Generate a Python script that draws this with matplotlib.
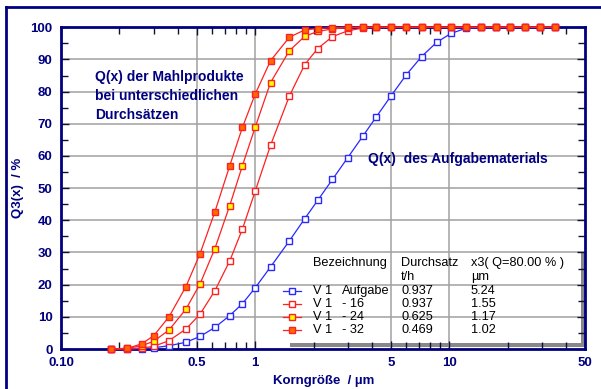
import numpy as np
import matplotlib
matplotlib.use("Agg")
import matplotlib.pyplot as plt
from matplotlib.lines import Line2D
from matplotlib.patches import Rectangle
from matplotlib.ticker import FixedLocator, NullFormatter

# particle size classes (um)
sizes = [0.18, 0.22, 0.26, 0.30, 0.36, 0.44, 0.52, 0.62, 0.74, 0.86, 1.00, 1.20,
         1.50, 1.80, 2.10, 2.50, 3.00, 3.60, 4.20, 5.00, 6.00, 7.20, 8.60, 10.20,
         12.20, 14.60, 17.40, 20.60, 24.60, 29.40, 35.00]

# cumulative distributions Q3 (%)
q_aufgabe = [0, 0, 0, 0.4, 1.0, 2.1, 3.9, 6.7, 10.4, 14.1, 19.0, 25.5,
             33.6, 40.5, 46.2, 52.7, 59.5, 66.3, 72.1, 78.6, 85.2, 90.9, 95.3, 98.1,
             99.7, 100, 100, 100, 100, 100, 100]
q_16 = [0, 0, 0.3, 0.8, 2.6, 6.2, 10.8, 18.1, 27.4, 37.3, 49.0, 63.3,
        78.6, 88.4, 93.4, 97.1, 98.9, 99.8, 100, 100, 100, 100, 100, 100,
        100, 100, 100, 100, 100, 100, 100]
q_24 = [0, 0.2, 1.0, 2.4, 5.9, 12.4, 20.2, 31.2, 44.6, 57.0, 68.9, 82.8,
        92.7, 97.2, 98.7, 99.5, 99.9, 100, 100, 100, 100, 100, 100, 100,
        100, 100, 100, 100, 100, 100, 100]
q_32 = [0, 0.2, 1.6, 4.1, 10.0, 19.4, 29.6, 42.6, 57.0, 68.9, 79.2, 89.6,
        96.9, 99.2, 99.6, 99.9, 100, 100, 100, 100, 100, 100, 100, 100,
        100, 100, 100, 100, 100, 100, 100]

names = ["V 1", "V 1", "V 1", "V 1"]
labels = ["Aufgabe", "- 16", "- 24", "- 32"]
durchsatz = ["0.937", "0.937", "0.625", "0.469"]
x80 = ["5.24", "1.55", "1.17", "1.02"]

xticks = [0.1, 0.5, 1, 5, 10, 50]
xticklabels = ["0.10", "0.5", "1", "5", "10", "50"]
xminor = [0.2, 0.3, 0.4, 0.6, 0.7, 0.8, 0.9, 2, 3, 4, 6, 7, 8, 9, 20, 30, 40]

navy = "#000080"
red = "#FF2020"
blue = "#2828FF"
bold = dict(family="Liberation Sans", weight="bold", color=navy)

W, H = 601, 389
fig = plt.figure(figsize=(W / 100, H / 100), dpi=100)
fig.patch.set_facecolor("white")


def fx(px):
    return px / W


def fy(py):
    return 1 - py / H


ax = fig.add_axes([fx(61), fy(349), fx(585) - fx(61), fy(27.3) - fy(349)])
ax.set_xscale("log")
ax.set_xlim(0.1, 50)
ax.set_ylim(0, 100)

# grid drawn by hand so text boxes can cover it
for v in [0.5, 1, 5, 10]:
    ax.axvline(v, color="#A0A0A0", lw=1.1, zorder=0.5)
for h in range(10, 100, 10):
    ax.axhline(h, color="#A0A0A0", lw=1.1, zorder=0.5)

series = [
    (q_aufgabe, blue, "white"),
    (q_16, red, "white"),
    (q_24, red, "#FFFF00"),
    (q_32, red, "#FF6A00"),
]
for q, lc, fc in series:
    ax.plot(sizes, q, color=lc, lw=0.9, marker="s", ms=4.8, mfc=fc, mec=lc,
            mew=1.0, zorder=4, clip_on=False)

ax.xaxis.set_major_locator(FixedLocator(xticks))
ax.set_xticklabels(xticklabels)
ax.xaxis.set_minor_locator(FixedLocator(xminor))
ax.xaxis.set_minor_formatter(NullFormatter())
ax.set_yticks(range(0, 101, 10))
ax.yaxis.set_minor_locator(FixedLocator(range(5, 100, 10)))
ax.tick_params(which="both", direction="in", top=True, right=True,
               color="#101030", width=1)
ax.tick_params(which="major", length=6, pad=6)
ax.tick_params(which="minor", length=5)
for lab in ax.get_xticklabels() + ax.get_yticklabels():
    lab.set_fontfamily("Liberation Sans")
    lab.set_fontweight("bold")
    lab.set_fontsize(9.5)
    lab.set_color(navy)
for s in ax.spines.values():
    s.set_color(navy)
    s.set_linewidth(2)
    s.set_zorder(3)


# white areas behind the annotations and the table
def box(x0, y0, x1, y1, color="white", z=1):
    fig.add_artist(Rectangle((fx(x0), fy(y1)), fx(x1) - fx(x0), fy(y0) - fy(y1),
                             transform=fig.transFigure, facecolor=color,
                             edgecolor="none", zorder=z))


ax.set_zorder(1)
ax.patch.set_visible(False)

box(88, 30, 246, 128)
box(362, 147, 550, 172)
box(290, 252, 585, 347, color="#888888")
box(282, 248, 581, 343)

fig.text(fx(95), fy(77), "Q(x) der Mahlprodukte", fontsize=10, va="center",
         zorder=6, **bold)
fig.text(fx(95), fy(96), "bei unterschiedlichen", fontsize=10, va="center",
         zorder=6, **bold)
fig.text(fx(95), fy(115), "Durchsätzen", fontsize=10, va="center",
         zorder=6, **bold)
fig.text(fx(368), fy(159), "Q(x)  des Aufgabematerials", fontsize=10,
         va="center", zorder=6, **bold)

# table legend
reg = dict(family="Liberation Sans", fontsize=9.2, color="black", va="center",
           zorder=6)
fig.text(fx(313), fy(263), "Bezeichnung", **reg)
fig.text(fx(401), fy(263), "Durchsatz", **reg)
fig.text(fx(471), fy(263), "x3( Q=80.00 % )", **reg)
fig.text(fx(401), fy(277), "t/h", **reg)
fig.text(fx(471), fy(277), "µm", **reg)
rows = [291, 304, 317, 330]
for i, (q, lc, fc) in enumerate(series):
    ry = fy(rows[i])
    fig.add_artist(Line2D([fx(283), fx(301)], [ry, ry], transform=fig.transFigure,
                          color=lc, lw=0.9, zorder=6))
    fig.add_artist(Line2D([fx(292)], [ry], transform=fig.transFigure, marker="s",
                          ms=4.8, mfc=fc, mec=lc, mew=1.0, zorder=6))
    fig.text(fx(313), ry, names[i], **reg)
    fig.text(fx(342), ry, labels[i], **reg)
    fig.text(fx(401), ry, durchsatz[i], **reg)
    fig.text(fx(471), ry, x80[i], **reg)

# axis titles
fig.text(fx(324), fy(381), "Korngröße  / µm", fontsize=9.5, ha="center",
         va="center", **bold)
fig.text(fx(18), fy(188), "Q3(x)  / %", fontsize=9.5, ha="center", va="center",
         rotation=90, **bold)

# outer frame lines
fig.add_artist(Line2D([fx(6), 1], [fy(7), fy(7)], transform=fig.transFigure,
                      color=navy, lw=2))
fig.add_artist(Line2D([fx(6), fx(6)], [fy(7), 0], transform=fig.transFigure,
                      color=navy, lw=2))

fig.savefig("out.png", dpi=100)
